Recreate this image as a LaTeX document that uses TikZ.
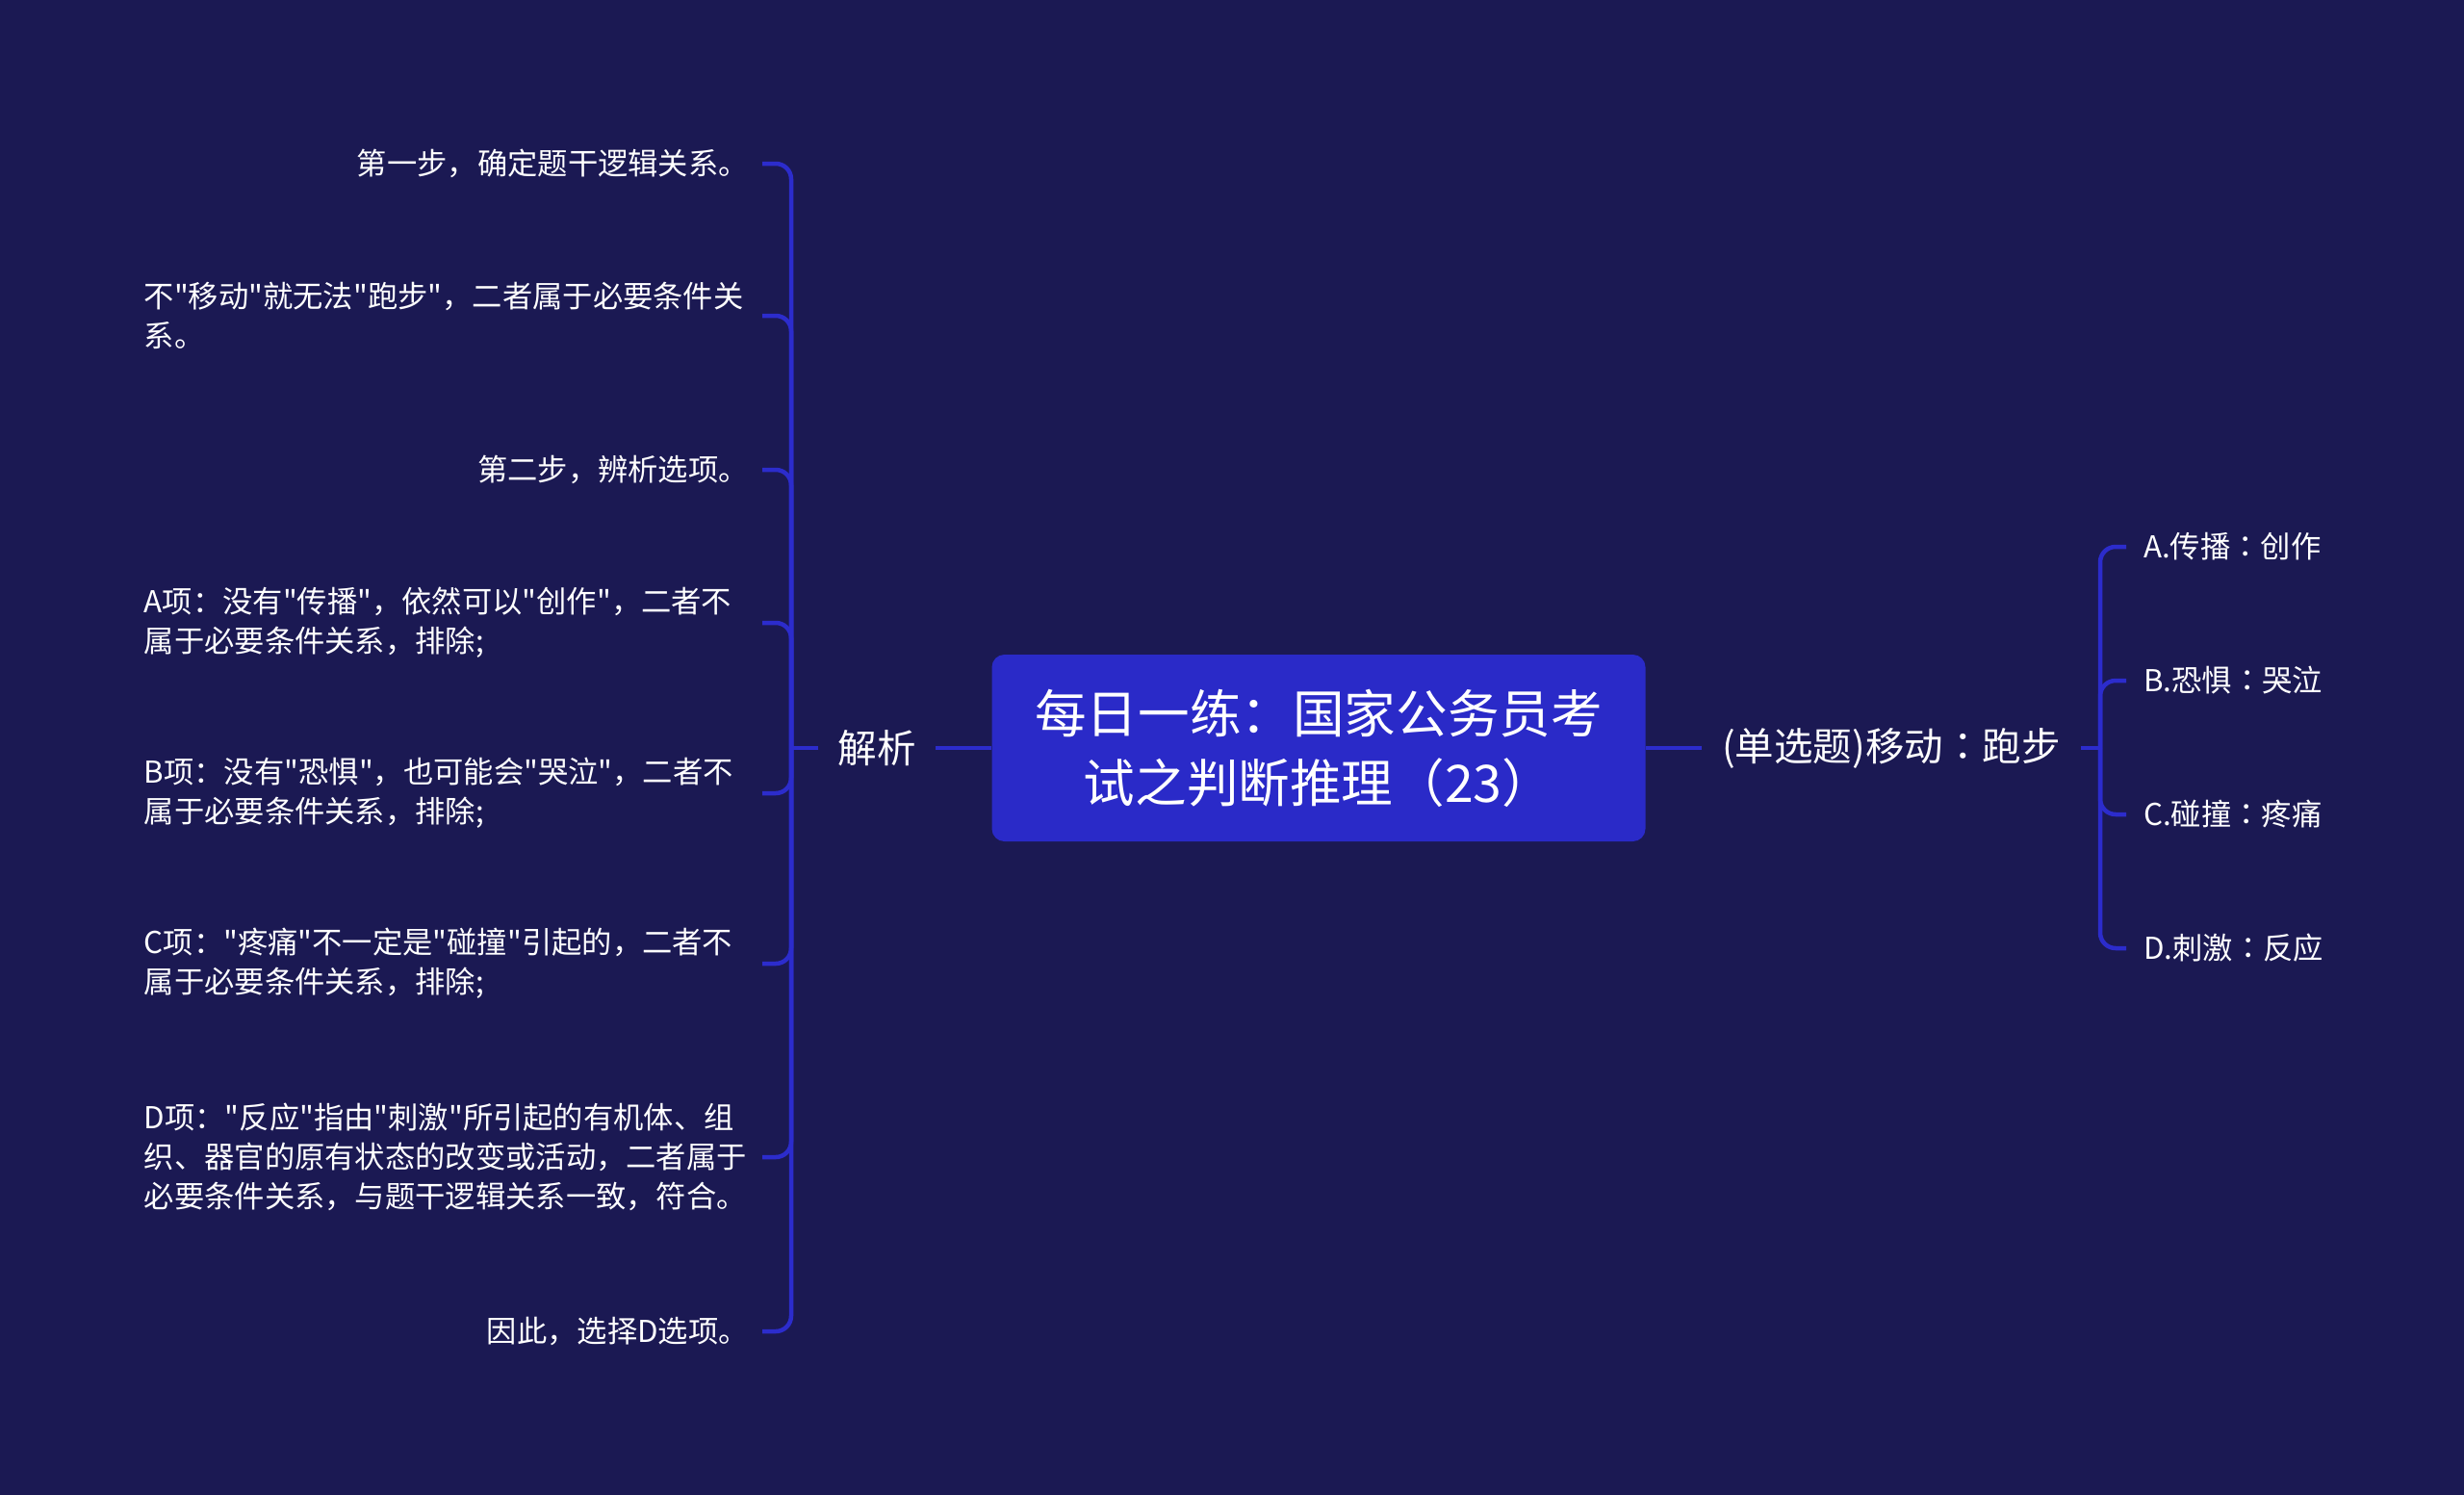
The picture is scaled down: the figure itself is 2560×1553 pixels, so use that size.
\documentclass[tikz,border=0pt]{standalone}
\usepackage{fontspec}
\setmainfont{Noto Sans CJK SC}[Ligatures=TeXOff]
\newfontfamily\tcfont{Noto Sans CJK TC}[Ligatures=TeXOff]
\definecolor{bgc}{RGB}{27,25,83}
\definecolor{linec}{RGB}{44,44,204}
\definecolor{boxc}{RGB}{42,42,200}
\begin{document}
\begin{tikzpicture}[x=1pt,y=-1pt,
  conn/.style={draw=linec, line width=4.5pt, rounded corners=16pt},
  leafl/.style={text=white, font=\fontsize{31.3}{41}\selectfont, inner ysep=0pt, inner xsep=14pt, text width=628pt, anchor=east},
  leafr/.style={text=white, font=\fontsize{31.3}{41}\selectfont, inner ysep=0pt, inner xsep=18pt, anchor=west},
  lvone/.style={text=white, font=\fontsize{40.5}{50}\selectfont, inner ysep=0pt},
  rootbox/.style={fill=boxc, rounded corners=13pt, minimum width=679pt, minimum height=194pt, text=white, align=center, font=\fontsize{53.6}{72}\selectfont, inner sep=0pt}]
\fill[bgc] (0,0) rectangle (2560,1553);
\useasboundingbox (0,0) rectangle (2560,1553);

% root
\node[rootbox] (root) at (1370,777) {每日一练：国家公务员考\\试之判断推理（23）};

% level one
\node[lvone, inner xsep=20pt] (jx) at (911,777) {解析};
\node[lvone, inner xsep=21pt, anchor=west] (ds) at (1768,777) {(单选题)移动{\tcfont ：}跑步};

\coordinate (lbus) at (822,777);
\coordinate (rbus) at (2182,777);

% left leaves
\node[leafl, align=right] (l1) at (792,170) {第一步，确定题干逻辑关系。};
\node[leafl, align=left] (l2) at (792,328) {不"移动"就无法"跑步"，二者属于必要条件关\\系。};
\node[leafl, align=right] (l3) at (792,488) {第二步，辨析选项。};
\node[leafl, align=left] (l4) at (792,647) {A项：没有"传播"，依然可以"创作"，二者不\\属于必要条件关系，排除;};
\node[leafl, align=left] (l5) at (792,824) {B项：没有"恐惧"，也可能会"哭泣"，二者不\\属于必要条件关系，排除;};
\node[leafl, align=left] (l6) at (792,1001) {C项："疼痛"不一定是"碰撞"引起的，二者不\\属于必要条件关系，排除;};
\node[leafl, align=left] (l7) at (792,1202) {D项："反应"指由"刺激"所引起的有机体、组\\织、器官的原有状态的改变或活动，二者属于\\必要条件关系，与题干逻辑关系一致，符合。};
\node[leafl, align=right] (l8) at (792,1383) {因此，选择D选项。};

% right leaves
\node[leafr] (r1) at (2209,568) {A.传播{\tcfont ：}创作};
\node[leafr] (r2) at (2209,707) {B.恐惧{\tcfont ：}哭泣};
\node[leafr] (r3) at (2209,846) {C.碰撞{\tcfont ：}疼痛};
\node[leafr] (r4) at (2209,985) {D.刺激{\tcfont ：}反应};

% connectors
\draw[conn] (root.west) -- (root.west -| jx.east);
\draw[conn] (lbus -| jx.west) -- (lbus);
\foreach \n in {l1,l2,l3,l4,l5,l6,l7,l8}
  \draw[conn] (lbus) |- (\n.east);
\draw[conn] (root.east) -- (root.east -| ds.west);
\draw[conn] (rbus -| ds.east) -- (rbus);
\foreach \n in {r1,r2,r3,r4}
  \draw[conn] (rbus) |- (\n.west);
\end{tikzpicture}
\end{document}
